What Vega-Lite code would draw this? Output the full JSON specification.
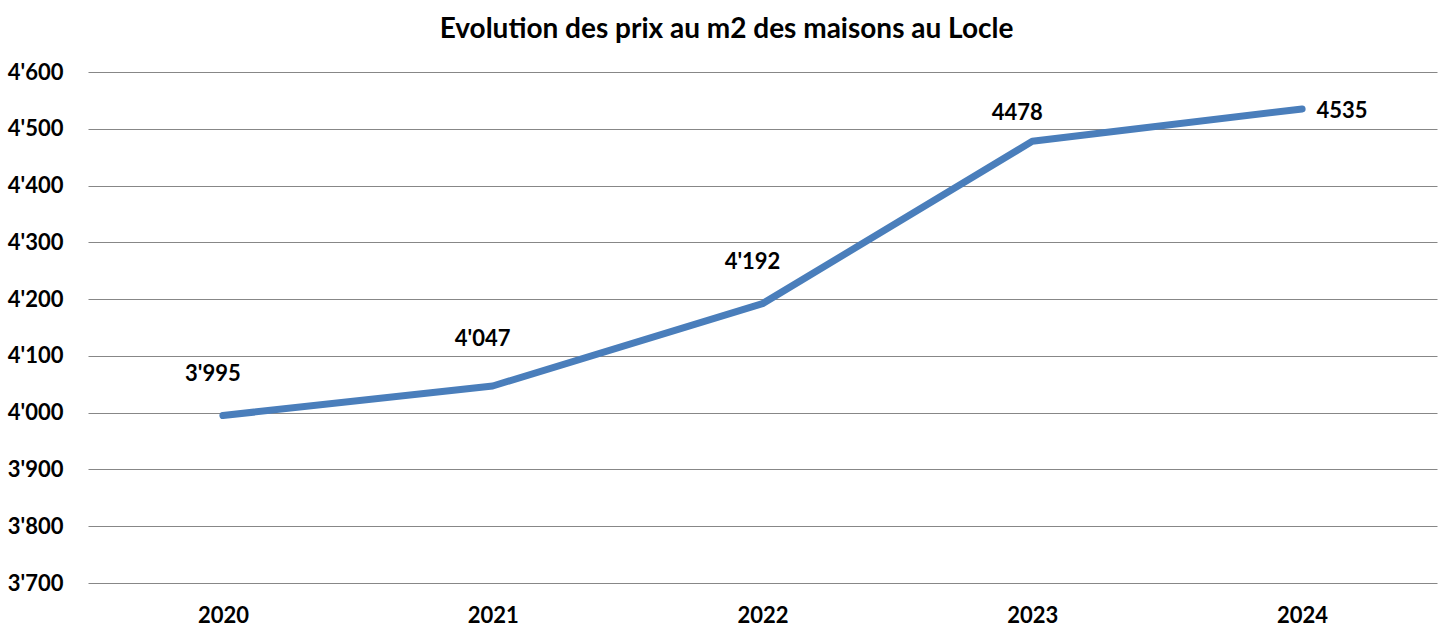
{
  "$schema": "https://vega.github.io/schema/vega-lite/v6.json",
  "autosize": "none",
  "width": 1349,
  "height": 511,
  "padding": {"left": 88, "top": 72, "right": 16, "bottom": 55},
  "background": "white",
  "config": {"view": {"stroke": null}, "font": "Lato"},
  "title": {
    "text": "Evolution des prix au m2 des maisons au Locle",
    "font": "Lato",
    "fontSize": 28,
    "fontWeight": "bold",
    "color": "black",
    "anchor": "middle",
    "dx": -36,
    "offset": 17
  },
  "data": {
    "values": [
      {"year": "2020", "price": 3995, "label": "3'995"},
      {"year": "2021", "price": 4047, "label": "4'047"},
      {"year": "2022", "price": 4192, "label": "4'192"},
      {"year": "2023", "price": 4478, "label": "4478"},
      {"year": "2024", "price": 4535, "label": "4535"}
    ]
  },
  "encoding": {
    "x": {
      "field": "year",
      "type": "ordinal",
      "scale": {"type": "point", "padding": 0.5},
      "axis": {
        "title": null,
        "labelAngle": 0,
        "labelFont": "Lato",
        "labelFontSize": 22,
        "labelFontWeight": "bold",
        "labelColor": "black",
        "labelPadding": 22,
        "ticks": false,
        "domain": false,
        "grid": false
      }
    },
    "y": {
      "field": "price",
      "type": "quantitative",
      "scale": {"domain": [3700, 4600], "nice": false, "zero": false},
      "axis": {
        "title": null,
        "values": [3700, 3800, 3900, 4000, 4100, 4200, 4300, 4400, 4500, 4600],
        "labelExpr": "replace(format(datum.value, ','), ',', \"'\")",
        "labelFont": "Lato",
        "labelFontSize": 22,
        "labelFontWeight": "bold",
        "labelColor": "black",
        "labelPadding": 25,
        "ticks": false,
        "domain": false,
        "grid": true,
        "gridColor": "#878787",
        "gridWidth": 1
      }
    }
  },
  "layer": [
    {
      "mark": {"type": "line", "color": "#4A7EBB", "strokeWidth": 7, "strokeCap": "round", "strokeJoin": "round"}
    },
    {
      "transform": [{"filter": "datum.year == '2020' || datum.year == '2022'"}],
      "mark": {"type": "text", "font": "Lato", "fontSize": 22, "fontWeight": "bold", "color": "black", "dx": -10, "dy": -42},
      "encoding": {"text": {"field": "label"}}
    },
    {
      "transform": [{"filter": "datum.year == '2021'"}],
      "mark": {"type": "text", "font": "Lato", "fontSize": 22, "fontWeight": "bold", "color": "black", "dx": -10, "dy": -47},
      "encoding": {"text": {"field": "label"}}
    },
    {
      "transform": [{"filter": "datum.year == '2023'"}],
      "mark": {"type": "text", "font": "Lato", "fontSize": 22, "fontWeight": "bold", "color": "black", "dx": -15, "dy": -28},
      "encoding": {"text": {"field": "label"}}
    },
    {
      "transform": [{"filter": "datum.year == '2024'"}],
      "mark": {"type": "text", "font": "Lato", "fontSize": 22, "fontWeight": "bold", "color": "black", "dx": 40, "dy": 2},
      "encoding": {"text": {"field": "label"}}
    }
  ]
}
